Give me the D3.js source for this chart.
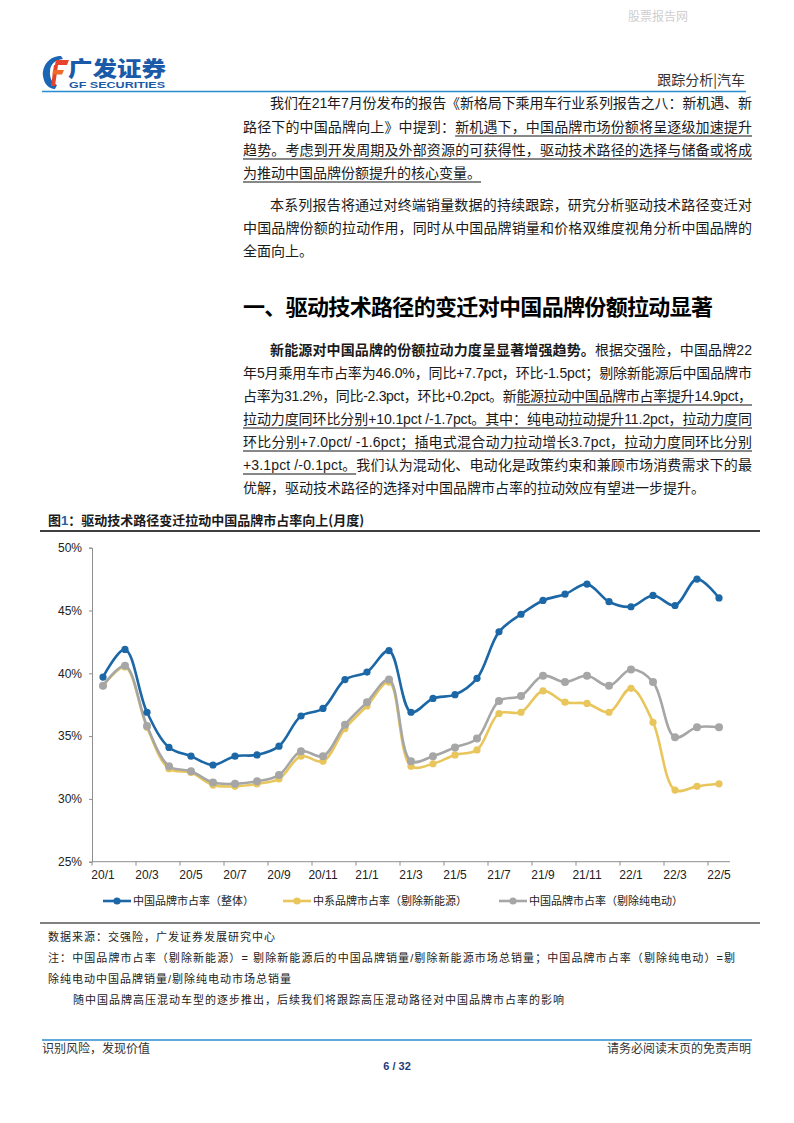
<!DOCTYPE html>
<html><head><meta charset="utf-8">
<script src="https://cdn.jsdelivr.net/npm/d3@7"></script>
<style>body{margin:0;background:#fff}svg{display:block}</style>
</head><body>
<svg id="page" width="794" height="1123"></svg>
<script>
// ---------- DATA ----------
const categories = ["20/1","20/2","20/3","20/4","20/5","20/6","20/7","20/8","20/9","20/10","20/11","20/12",
  "21/1","21/2","21/3","21/4","21/5","21/6","21/7","21/8","21/9","21/10","21/11","21/12",
  "22/1","22/2","22/3","22/4","22/5"];
const overall = [39.7,41.9,36.9,34.1,33.4,32.7,33.4,33.5,34.2,36.6,37.2,39.5,40.1,41.8,36.9,38.0,38.3,39.6,43.3,44.7,45.8,46.3,47.1,45.7,45.3,46.2,45.4,47.5,46.0];
const exNev = [39.0,40.5,35.7,32.4,32.1,31.1,31.0,31.2,31.6,33.4,33.0,35.6,37.4,39.3,32.6,32.8,33.5,33.9,36.8,36.9,38.6,37.7,37.6,36.9,38.8,36.1,30.7,31.0,31.2];
const exBev = [39.0,40.6,35.8,32.6,32.2,31.3,31.2,31.4,31.9,33.8,33.4,35.9,37.7,39.5,33.0,33.4,34.1,34.8,37.8,38.2,39.8,39.3,39.8,39.0,40.3,39.3,34.9,35.7,35.7];
const yTicks = [25,30,35,40,45,50];
const xTickLabels = ["20/1","20/3","20/5","20/7","20/9","20/11","21/1","21/3","21/5","21/7","21/9","21/11","22/1","22/3","22/5"];
const seriesNames = ["中国品牌市占率（整体）","中系品牌市占率（剔除新能源）","中国品牌市占率（剔除纯电动）"];
const seriesColors = ["#1c67a5","#e8c65c","#a6a6a6"];

// ---------- PAGE ----------
const svg = d3.select("#page");
svg.append("rect").attr("width",794).attr("height",1123).attr("fill","#fff");
const CJK = "'Noto Sans CJK SC','Noto Sans',sans-serif";
const BODY = "'Liberation Sans','Noto Sans CJK SC',sans-serif";
const ARIAL = "'Liberation Sans',Arial,sans-serif";

// watermark
svg.append("text").attr("x",628).attr("y",21).attr("font-family",CJK).attr("font-size",12)
  .attr("fill","#cfcfcf").text("股票报告网");

// logo
const logo = svg.append("g");
logo.append("path").attr("d","M61,56 C49,56 42,66 43,76 C44,84 49,89 55,89 L57,85 C52,83 49.5,78 50,71 C50.5,64 55,60 63,59 Z").attr("fill","#1a66b5");
logo.append("path").attr("d","M56,60 L69,60 L67,65 L55,65 Z").attr("fill","#e8432d");
logo.append("path").attr("d","M54,65 L58,65 L55,86 L51,86 Z").attr("fill","#e8432d");
logo.append("path").attr("d","M53,70 L64,70 L62,74.5 L52.5,74.5 Z").attr("fill","#f06a2a");
logo.append("text").attr("x",68).attr("y",76).attr("font-family",CJK).attr("font-weight",900)
  .attr("font-size",21).attr("fill","#1b5aa8").attr("textLength",98).attr("lengthAdjust","spacingAndGlyphs").text("广发证券");
logo.append("text").attr("x",69).attr("y",88).attr("font-family",ARIAL).attr("font-weight",700)
  .attr("font-size",8.5).attr("fill","#1b5aa8").attr("textLength",96).attr("lengthAdjust","spacingAndGlyphs").text("GF SECURITIES");

svg.append("text").attr("x",745).attr("y",85).attr("text-anchor","end").attr("font-family",CJK)
  .attr("font-size",14).attr("fill","#333").text("跟踪分析|汽车");
svg.append("line").attr("x1",42).attr("x2",746).attr("y1",91.5).attr("y2",91.5).attr("stroke","#2a8bd0").attr("stroke-width",1.6);

// body text helper
function textLine(x, y, parts, opts={}) {
  const t = svg.append("text").attr("x",x).attr("y",y).attr("font-family",opts.font||BODY)
    .attr("font-size",opts.size||14).attr("fill",opts.fill||"#1a1a1a");
  if (opts.width) t.attr("textLength",opts.width).attr("lengthAdjust","spacing");
  if (opts.weight) t.attr("font-weight",opts.weight);
  parts.forEach(p => {
    const s = typeof p === "string" ? {t:p} : p;
    const ts = t.append("tspan").text(s.t);
    if (s.b) ts.attr("font-weight",700);
  });
  if (opts.ul) {
    const node = t.node();
    const full = parts.map(p => typeof p === "string" ? p : p.t).join("");
    const s = opts.ul[0], e = (opts.ul[1] === undefined ? full.length : opts.ul[1]) - 1;
    const x0 = node.getStartPositionOfChar(s).x;
    const x1 = node.getEndPositionOfChar(e).x;
    svg.append("line").attr("x1",x0).attr("x2",x1).attr("y1",y+4).attr("y2",y+4)
      .attr("stroke","#111").attr("stroke-width",1);
  }
  return t;
}
const R = 752, L = 243, IND = 270;
// paragraph 1
textLine(IND,108,["我们在21年7月份发布的报告《新格局下乘用车行业系列报告之八：新机遇、新"],{width:R-IND});
textLine(L,132,["路径下的中国品牌向上》中提到：新机遇下，中国品牌市场份额将呈逐级加速提升"],{width:R-L,ul:[15]});
textLine(L,155,["趋势。考虑到开发周期及外部资源的可获得性，驱动技术路径的选择与储备或将成"],{width:R-L,ul:[0]});
textLine(L,178,["为推动中国品牌份额提升的核心变量。"],{ul:[0]});
// paragraph 2
textLine(IND,210,["本系列报告将通过对终端销量数据的持续跟踪，研究分析驱动技术路径变迁对"],{width:R-IND});
textLine(L,233,["中国品牌份额的拉动作用，同时从中国品牌销量和价格双维度视角分析中国品牌的"],{width:R-L});
textLine(L,256,["全面向上。"]);
// heading
textLine(L,315,["一、驱动技术路径的变迁对中国品牌份额拉动显著"],{size:22,weight:700,width:470,fill:"#000",font:CJK});
// paragraph 3
textLine(IND,355,[{t:"新能源对中国品牌的份额拉动力度呈显著增强趋势。",b:true},"根据交强险，中国品牌22"],{width:R-IND});
textLine(L,378,["年5月乘用车市占率为46.0%，同比+7.7pct，环比-1.5pct；剔除新能源后中国品牌市"],{width:R-L});
textLine(L,401,["占率为31.2%，同比-2.3pct，环比+0.2pct。新能源拉动中国品牌市占率提升14.9pct，"],{width:R-L,ul:[30]});
textLine(L,424,["拉动力度同环比分别+10.1pct /-1.7pct。其中：纯电动拉动提升11.2pct，拉动力度同"],{width:R-L,ul:[0]});
textLine(L,447,["环比分别+7.0pct/ -1.6pct；插电式混合动力拉动增长3.7pct，拉动力度同环比分别"],{width:R-L,ul:[0]});
textLine(L,470,["+3.1pct /-0.1pct。我们认为混动化、电动化是政策约束和兼顾市场消费需求下的最"],{width:R-L,ul:[0,17]});
textLine(L,493,["优解，驱动技术路径的选择对中国品牌市占率的拉动效应有望进一步提升。"]);

// figure title
const ft = svg.append("text").attr("x",48).attr("y",525).attr("font-family",CJK).attr("font-weight",700)
  .attr("font-size",13).attr("fill","#1a1a1a");
ft.append("tspan").text("图");
ft.append("tspan").attr("fill","#1f5fa6").attr("font-family",ARIAL).text("1");
ft.append("tspan").text("：驱动技术路径变迁拉动中国品牌市占率向上(月度)");
svg.append("line").attr("x1",40).attr("x2",760).attr("y1",531).attr("y2",531).attr("stroke","#000").attr("stroke-width",1.4);

// ---------- CHART ----------
const x = d3.scaleBand().domain(categories).range([92,730]).padding(0);
const y = d3.scaleLinear().domain([25,50]).range([861.7,547.7]);
const g = svg.append("g");
const axisColor = "#8e8e8e";

const yAxis = g.append("g").attr("transform","translate(92,0)")
  .call(d3.axisLeft(y).tickValues(yTicks).tickSize(3).tickFormat(d => d + "%"));
yAxis.select(".domain").attr("stroke",axisColor);
yAxis.selectAll(".tick line").attr("stroke",axisColor);
yAxis.selectAll("text").attr("font-family",ARIAL).attr("font-size",12).attr("fill","#222").attr("x",-10);

const xAxisG = g.append("g").attr("transform","translate(0,861.7)");
xAxisG.append("line").attr("x1",92).attr("x2",730).attr("stroke",axisColor);
xAxisG.selectAll("line.tk").data(xTickLabels).join("line").attr("class","tk")
  .attr("x1",d=>x(d)).attr("x2",d=>x(d)).attr("y1",0).attr("y2",4).attr("stroke",axisColor);
const xAxis = xAxisG.append("g").call(d3.axisBottom(x).tickValues(xTickLabels).tickSize(0).tickPadding(9));
xAxis.select(".domain").remove();
xAxis.selectAll("text").attr("font-family",ARIAL).attr("font-size",12).attr("fill","#222");

const cx = d => x(d) + x.bandwidth()/2;
const line = d3.line().x(d => cx(d.c)).y(d => y(d.v)).curve(d3.curveCatmullRom.alpha(0.5));
const series = [
  {vals: exNev, color: seriesColors[1], r: 3.6},
  {vals: exBev, color: seriesColors[2], r: 4},
  {vals: overall, color: seriesColors[0], r: 3.6}
];
series.forEach(s => {
  const pts = categories.map((c,i) => ({c, v: s.vals[i]}));
  g.append("path").datum(pts).attr("d",line).attr("fill","none").attr("stroke",s.color).attr("stroke-width",2.6);
  g.selectAll(null).data(pts).join("circle").attr("cx",d=>cx(d.c)).attr("cy",d=>y(d.v)).attr("r",s.r).attr("fill",s.color);
});

// legend
const legendX = [103, 283, 499];
seriesNames.forEach((n,i) => {
  const lg = svg.append("g").attr("transform",`translate(${legendX[i]},901)`);
  lg.append("line").attr("x1",0).attr("x2",28).attr("stroke",seriesColors[i]).attr("stroke-width",2.6);
  lg.append("circle").attr("cx",14).attr("r",3.6).attr("fill",seriesColors[i]);
  lg.append("text").attr("x",30).attr("y",4).attr("font-family",CJK).attr("font-size",11).attr("fill","#222").text(n);
});

svg.append("line").attr("x1",40).attr("x2",760).attr("y1",923).attr("y2",923).attr("stroke","#000").attr("stroke-width",1);

// notes
const note = (x0,y0,t,w) => { const e = svg.append("text").attr("x",x0).attr("y",y0).attr("font-family",BODY)
  .attr("font-size",11).attr("letter-spacing",1).attr("fill","#222").text(t); if (w) e.attr("textLength",w).attr("lengthAdjust","spacing"); };
note(48,941,"数据来源：交强险，广发证券发展研究中心");
note(48,962,"注：中国品牌市占率（剔除新能源）= 剔除新能源后的中国品牌销量/剔除新能源市场总销量；中国品牌市占率（剔除纯电动）=剔",688);
note(48,983,"除纯电动中国品牌销量/剔除纯电动市场总销量");
note(73,1004,"随中国品牌高压混动车型的逐步推出，后续我们将跟踪高压混动路径对中国品牌市占率的影响");

// footer
svg.append("line").attr("x1",42).attr("x2",752).attr("y1",1040).attr("y2",1040).attr("stroke","#2a8bd0").attr("stroke-width",1.6);
svg.append("text").attr("x",42).attr("y",1053).attr("font-family",CJK).attr("font-size",12).attr("fill","#333").text("识别风险，发现价值");
svg.append("text").attr("x",751).attr("y",1053).attr("text-anchor","end").attr("font-family",CJK).attr("font-size",12).attr("fill","#333").text("请务必阅读末页的免责声明");
svg.append("text").attr("x",397).attr("y",1070).attr("text-anchor","middle").attr("font-family",ARIAL).attr("font-weight",700)
  .attr("font-size",11).attr("fill","#1f3c7a").text("6 / 32");
</script>
</body></html>
